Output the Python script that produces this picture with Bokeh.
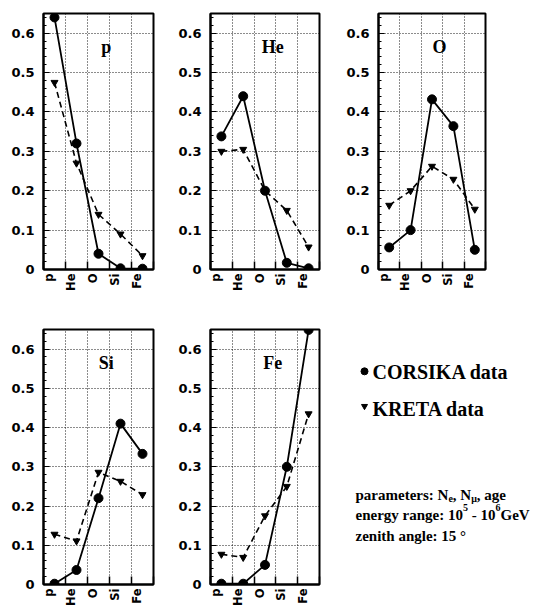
import glob, struct
from bokeh.plotting import figure
from bokeh.layouts import column, row
from bokeh.models import Range1d, FixedTicker, CustomJSTickFormatter, Label
from bokeh.embed import file_html
from bokeh.resources import INLINE

# ---------------- data ----------------
elements = ["p", "He", "O", "Si", "Fe"]
corsika_p = [0.64, 0.32, 0.04, 0.003, 0.002]
kreta_p = [0.475, 0.27, 0.14, 0.09, 0.035]
corsika_he = [0.338, 0.44, 0.20, 0.017, 0.003]
kreta_he = [0.30, 0.305, 0.20, 0.15, 0.057]
corsika_o = [0.056, 0.10, 0.432, 0.364, 0.05]
kreta_o = [0.163, 0.20, 0.262, 0.229, 0.153]
corsika_si = [0.002, 0.037, 0.22, 0.41, 0.333]
kreta_si = [0.128, 0.111, 0.286, 0.263, 0.229]
corsika_fe = [0.002, 0.002, 0.05, 0.30, 0.649]
kreta_fe = [0.077, 0.069, 0.175, 0.25, 0.435]
y_ticks = [0.0, 0.1, 0.2, 0.3, 0.4, 0.5, 0.6]
legend_labels = ["CORSIKA data", "KRETA data"]

SERIF = "Liberation Serif"
SANS = "DejaVu Sans"


# ---------------- font metrics (for sub/superscript placement) ----------------
def make_width_fn(pattern):
    paths = glob.glob("/usr/share/fonts/**/" + pattern, recursive=True)
    if not paths:
        return lambda s, size: 0.5 * size * len(s)
    try:
        data = open(paths[0], "rb").read()
        ntab = struct.unpack(">H", data[4:6])[0]
        tables = {}
        for i in range(ntab):
            tag, cs, off, ln = struct.unpack(">4sIII", data[12 + 16 * i:28 + 16 * i])
            tables[tag.decode("latin1")] = off
        head = tables["head"]
        upem = struct.unpack(">H", data[head + 18:head + 20])[0]
        hhea = tables["hhea"]
        nhm = struct.unpack(">H", data[hhea + 34:hhea + 36])[0]
        hm = tables["hmtx"]
        adv = [struct.unpack(">H", data[hm + 4 * i:hm + 4 * i + 2])[0] for i in range(nhm)]
        cm = tables["cmap"]
        n = struct.unpack(">H", data[cm + 2:cm + 4])[0]
        sub = None
        for i in range(n):
            pid, eid, off = struct.unpack(">HHI", data[cm + 4 + 8 * i:cm + 12 + 8 * i])
            fmt = struct.unpack(">H", data[cm + off:cm + off + 2])[0]
            if fmt == 4:
                sub = cm + off
                break
        segx2 = struct.unpack(">H", data[sub + 6:sub + 8])[0]
        seg = segx2 // 2
        ends = struct.unpack(">%dH" % seg, data[sub + 14:sub + 14 + segx2])
        starts = struct.unpack(">%dH" % seg, data[sub + 16 + segx2:sub + 16 + 2 * segx2])
        deltas = struct.unpack(">%dh" % seg, data[sub + 16 + 2 * segx2:sub + 16 + 3 * segx2])
        rpos = sub + 16 + 3 * segx2
        roffs = struct.unpack(">%dH" % seg, data[rpos:rpos + segx2])

        def gid(c):
            for k in range(seg):
                if starts[k] <= c <= ends[k]:
                    if roffs[k] == 0:
                        return (c + deltas[k]) & 0xFFFF
                    addr = rpos + 2 * k + roffs[k] + 2 * (c - starts[k])
                    g = struct.unpack(">H", data[addr:addr + 2])[0]
                    return (g + deltas[k]) & 0xFFFF if g else 0
            return 0

        def width(s, size):
            return sum(adv[min(gid(ord(ch)), nhm - 1)] for ch in s) * size / upem
        return width
    except Exception:
        return lambda s, size: 0.5 * size * len(s)


serif_w = make_width_fn("LiberationSerif-Bold.ttf")

# ---------------- panels ----------------
xs = [i + 0.5 for i in range(len(elements))]
label_pos = [i + 0.25 for i in range(len(elements))]
edges = [float(i) for i in range(len(elements) + 1)]
minor_y = [round(0.02 * k, 2) for k in range(33)]


def panel(title, cors, kret, lb, fw, rb, tb, fh, bb):
    p = figure(width=lb + fw + rb, height=tb + fh + bb, title=None,
               x_range=Range1d(0, len(elements)), y_range=Range1d(0, 0.65),
               output_backend="svg", toolbar_location=None,
               min_border_left=lb, min_border_right=rb,
               min_border_top=tb, min_border_bottom=bb)
    p.outline_line_color = "black"
    p.outline_line_width = 2
    p.outline_line_alpha = 1

    xa = p.xaxis[0]
    xa.ticker = FixedTicker(ticks=label_pos, minor_ticks=edges)
    xa.formatter = CustomJSTickFormatter(args=dict(names=elements),
                                         code="return names[Math.floor(tick)];")
    xa.major_tick_in = 0
    xa.major_tick_out = 0
    xa.minor_tick_in = 8
    xa.minor_tick_out = 0
    xa.minor_tick_line_width = 1.5
    xa.axis_line_width = 2
    xa.major_label_orientation = 1.5707963
    xa.major_label_standoff = 4
    xa.major_label_text_font = SANS
    xa.major_label_text_font_style = "bold"
    xa.major_label_text_font_size = "11.5px"
    xa.major_label_text_color = "black"

    ya = p.yaxis[0]
    ya.ticker = FixedTicker(ticks=y_ticks, minor_ticks=minor_y)
    ya.formatter = CustomJSTickFormatter(code="return tick < 1e-9 ? '0' : tick.toFixed(1);")
    ya.major_tick_in = 6
    ya.major_tick_out = 0
    ya.minor_tick_in = 3
    ya.minor_tick_out = 0
    ya.axis_line_width = 2
    ya.major_label_standoff = 9
    ya.major_label_text_font = SANS
    ya.major_label_text_font_style = "bold"
    ya.major_label_text_font_size = "13px"
    ya.major_label_text_color = "black"

    p.xgrid.ticker = FixedTicker(ticks=edges[1:-1])
    p.ygrid.ticker = FixedTicker(ticks=y_ticks[1:])
    for g in (p.xgrid[0], p.ygrid[0]):
        g.grid_line_color = "black"
        g.grid_line_dash = "1 2"
        g.grid_line_width = 1
        g.grid_line_alpha = 0.9

    p.line(xs, kret, line_color="black", line_width=1.6, line_dash="6 4")
    p.scatter(xs, kret, marker="inverted_triangle", size=7, color="black")
    p.line(xs, cors, line_color="black", line_width=1.8)
    p.scatter(xs, cors, marker="circle", size=9, color="black")

    p.add_layout(Label(x=2.85, y=0.565, text=title, text_align="center",
                       text_baseline="middle", text_font=SERIF,
                       text_font_style="bold", text_font_size="18px",
                       text_color="black"))
    return p


TOP = dict(tb=13, fh=256, bb=31)
BOT = dict(tb=29, fh=256, bb=23)

f1 = panel(elements[0], corsika_p, kreta_p, 43, 110, 2, **TOP)
f2 = panel(elements[1], corsika_he, kreta_he, 55, 109, 2, **TOP)
f3 = panel(elements[2], corsika_o, kreta_o, 57, 107, 50, **TOP)
f4 = panel(elements[3], corsika_si, kreta_si, 43, 110, 2, **BOT)
f5 = panel(elements[4], corsika_fe, kreta_fe, 55, 109, 2, **BOT)

# ---------------- legend / info panel ----------------
# Bokeh aligns the frames of the plots in a row, so this figure keeps the same
# top/bottom borders as its neighbours; its ranges map 1 unit to 1 pixel measured
# from the figure's own top-left corner.
W6 = 214
TB6, BB6 = BOT["tb"], BOT["bb"]
H6 = TB6 + BOT["fh"] + BB6
f6 = figure(width=W6, height=H6, title=None,
            x_range=Range1d(0, W6), y_range=Range1d(H6 - BB6, TB6),
            x_axis_type=None, y_axis_type=None, output_backend="svg",
            toolbar_location=None, min_border_left=0, min_border_right=0,
            min_border_top=TB6, min_border_bottom=BB6)
f6.outline_line_color = None
f6.grid.visible = False

f6.scatter([43], [71], marker="circle", size=7, color="black")
f6.scatter([43], [106], marker="inverted_triangle", size=6, color="black")
for txt, lx, ly in [(legend_labels[0], 51, 72), (legend_labels[1], 51, 109)]:
    f6.add_layout(Label(x=lx, y=ly, text=txt, text_align="left", text_baseline="middle",
                        text_font=SERIF, text_font_style="bold", text_font_size="20px",
                        text_color="black"))

FS = 15
SFS = 10


def rich_line(segments, x0, base):
    x = x0
    for txt, kind in segments:
        size = FS if kind == "n" else SFS
        stripped = txt.lstrip(" ")
        x += serif_w(txt[:len(txt) - len(stripped)], size)
        dy = 0 if kind == "n" else (4 if kind == "sub" else -7)
        f6.add_layout(Label(x=x, y=base + dy, text=stripped, text_align="left",
                            text_baseline="alphabetic", text_font=SERIF,
                            text_font_style="bold", text_font_size="%gpx" % size,
                            text_color="black"))
        x += serif_w(stripped, size)


rich_line([("parameters: N", "n"), ("e", "sub"), (", N", "n"), ("\u03bc", "sub"), (", age", "n")], 34, 195)
rich_line([("energy range: 10", "n"), ("5", "sup"), (" - 10", "n"), ("6", "sup"), ("GeV", "n")], 34, 215)
rich_line([("zenith angle: 15 \u00b0", "n")], 34, 236)

layout = column(row(f1, f2, f3, spacing=0), row(f4, f5, f6, spacing=0), spacing=0)
open("out.html", "w").write(file_html(layout, INLINE))
